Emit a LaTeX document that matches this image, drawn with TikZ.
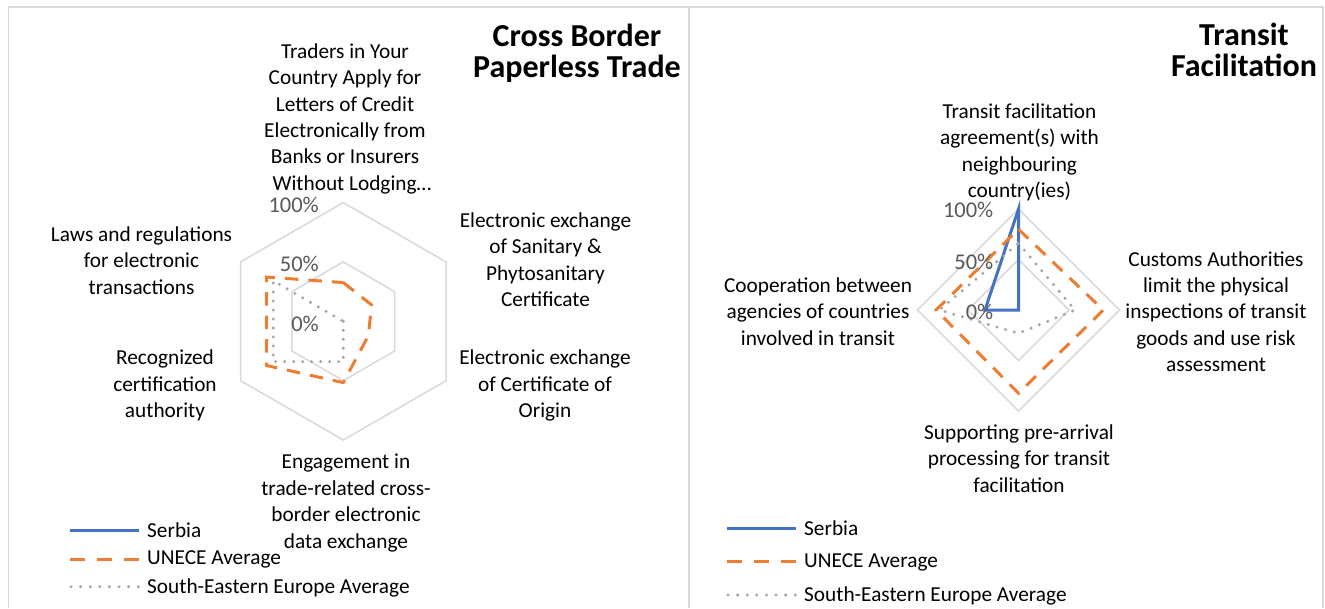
\documentclass[tikz,border=0pt]{standalone}
\usepackage{fontspec}
\setmainfont{Carlito}
\definecolor{serb}{HTML}{4472C4}
\definecolor{unece}{HTML}{ED7D31}
\definecolor{see}{HTML}{A5A5A5}
\definecolor{gridc}{HTML}{D9D9D9}
\definecolor{tickc}{HTML}{595959}
\begin{document}
\begin{tikzpicture}[x=1pt,y=-1pt,
  lbl/.style={align=center, font=\fontsize{21.3}{26.4}\selectfont, inner sep=0pt},
  tick/.style={anchor=east, text=tickc, font=\fontsize{22.5}{24}\selectfont, inner sep=0pt},
  ttl/.style={align=center, font=\fontsize{32}{31}\selectfont\bfseries, inner sep=0pt},
  leg/.style={anchor=west, font=\fontsize{21.3}{24}\selectfont, inner sep=0pt},
  framel/.style={draw=gridc, line width=1.5pt},
  gridl/.style={draw=gridc, line width=1.5pt, line join=miter},
  serbl/.style={draw=serb, line width=3pt, line join=miter},
  unecel/.style={draw=unece, line width=3pt, dash pattern=on 13.5pt off 10pt},
  seel/.style={draw=see, line width=3.3pt, line cap=round, dash pattern=on 0pt off 9pt}
]
\fill[white] (0,0) rectangle (1325,608);
\useasboundingbox (0,0) rectangle (1325,608);

% frames
\draw[framel] (8.5,608) -- (8.5,7) -- (1323,7) -- (1323,608);
\draw[framel] (689,7) -- (689,608);

% ---------------- left chart ----------------
\begin{scope}[shift={(343.3,321.3)}]
  \draw[gridl] (-90:118.7) -- (-30:118.7) -- (30:118.7) -- (90:118.7) -- (150:118.7) -- (210:118.7) -- cycle;
  \draw[gridl] (-90:59.35) -- (-30:59.35) -- (30:59.35) -- (90:59.35) -- (150:59.35) -- (210:59.35) -- cycle;
  \draw[unecel] (-90:38.7) -- (-30:32.7) -- (30:28.9) -- (90:61.3) -- (150:88.5) -- (210:88.5) -- cycle;
  \draw[seel] (0,0) -- (90:40.3) -- (150:80.8) -- (210:80.8) -- cycle;
\end{scope}
\node[tick] (l100) at (319,205) {100\%};
\node[tick] (l50) at (319,263.5) {50\%};
\node[tick] (l0) at (319,324) {0\%};

\node[lbl] (la1) at (345,118.8) {Traders in Your\\Country Apply for\\Letters of Credit\\Electronically from\\Banks or Insurers\\\hspace*{14pt}Without Lodging…};
\node[lbl] (la2) at (545.5,259.5) {Electronic exchange\\of Sanitary \&\\Phytosanitary\\Certificate};
\node[lbl] (la3) at (545,385.5) {Electronic exchange\\of Certificate of\\Origin};
\node[lbl] (la4) at (346,503) {Engagement in\\trade-related cross-\\border electronic\\data exchange};
\node[lbl] (la5) at (165,385.5) {Recognized\\certification\\authority};
\node[lbl] (la6) at (141.5,260.5) {Laws and regulations\\for electronic\\transactions};

\node[ttl] (lt) at (577,53) {Cross Border\\Paperless Trade};

\coordinate (lg1a) at (70,530.5);  \coordinate (lg1b) at (139,530.5);
\coordinate (lg2a) at (70,559);    \coordinate (lg2b) at (139,559);
\coordinate (lg3a) at (71,586.7);  \coordinate (lg3b) at (139,586.7);
\draw[serbl] (lg1a) -- (lg1b);
\draw[unecel, dash pattern=on 15pt off 12pt] (lg2a) -- (lg2b);
\draw[seel, dash pattern=on 0pt off 9.6pt] (lg3a) -- (lg3b);
\node[leg] (lgt1) at (147,530.5) {Serbia};
\node[leg] (lgt2) at (147,559) {UNECE Average};
\node[leg] (lgt3) at (147,587.5) {South-Eastern Europe Average};

% ---------------- right chart ----------------
\begin{scope}[shift={(1018.5,310)}]
  \draw[gridl] (-90:101) -- (0:101) -- (90:101) -- (180:101) -- cycle;
  \draw[gridl] (-90:50.5) -- (0:50.5) -- (90:50.5) -- (180:50.5) -- cycle;
  \draw[serbl] (-90:101) -- (0,0) -- (180:33.5) -- cycle;
  \draw[unecel] (-90:80.7) -- (0:84.8) -- (90:83.3) -- (180:82.5) -- cycle;
  \draw[seel] (-90:66.7) -- (0:56.5) -- (90:23.3) -- (180:79.2) -- cycle;
\end{scope}
\node[tick] (r100) at (993.5,210) {100\%};
\node[tick] (r50) at (993.5,261.7) {50\%};
\node[tick] (r0) at (993.5,311.7) {0\%};

\node[lbl] (ra1) at (1019.5,152.5) {Transit facilitation\\agreement(s) with\\neighbouring\\country(ies)};
\node[lbl] (ra2) at (1216,311.5) {Customs Authorities\\limit the physical\\inspections of transit\\goods and use risk\\assessment};
\node[lbl] (ra3) at (1019,458.5) {Supporting pre-arrival\\processing for transit\\facilitation};
\node[lbl] (ra4) at (818,311.5) {Cooperation between\\agencies of countries\\involved in transit};

\node[ttl] (rt) at (1244,50) {Transit\\Facilitation};

\coordinate (rg1a) at (727,528.3); \coordinate (rg1b) at (796,528.3);
\coordinate (rg2a) at (727,561);   \coordinate (rg2b) at (796,561);
\coordinate (rg3a) at (728,595);   \coordinate (rg3b) at (796,595);
\draw[serbl] (rg1a) -- (rg1b);
\draw[unecel, dash pattern=on 15pt off 12pt] (rg2a) -- (rg2b);
\draw[seel, dash pattern=on 0pt off 9.6pt] (rg3a) -- (rg3b);
\node[leg] (rgt1) at (804,528.5) {Serbia};
\node[leg] (rgt2) at (804,562) {UNECE Average};
\node[leg] (rgt3) at (804,596) {South-Eastern Europe Average};
\end{tikzpicture}
\end{document}
